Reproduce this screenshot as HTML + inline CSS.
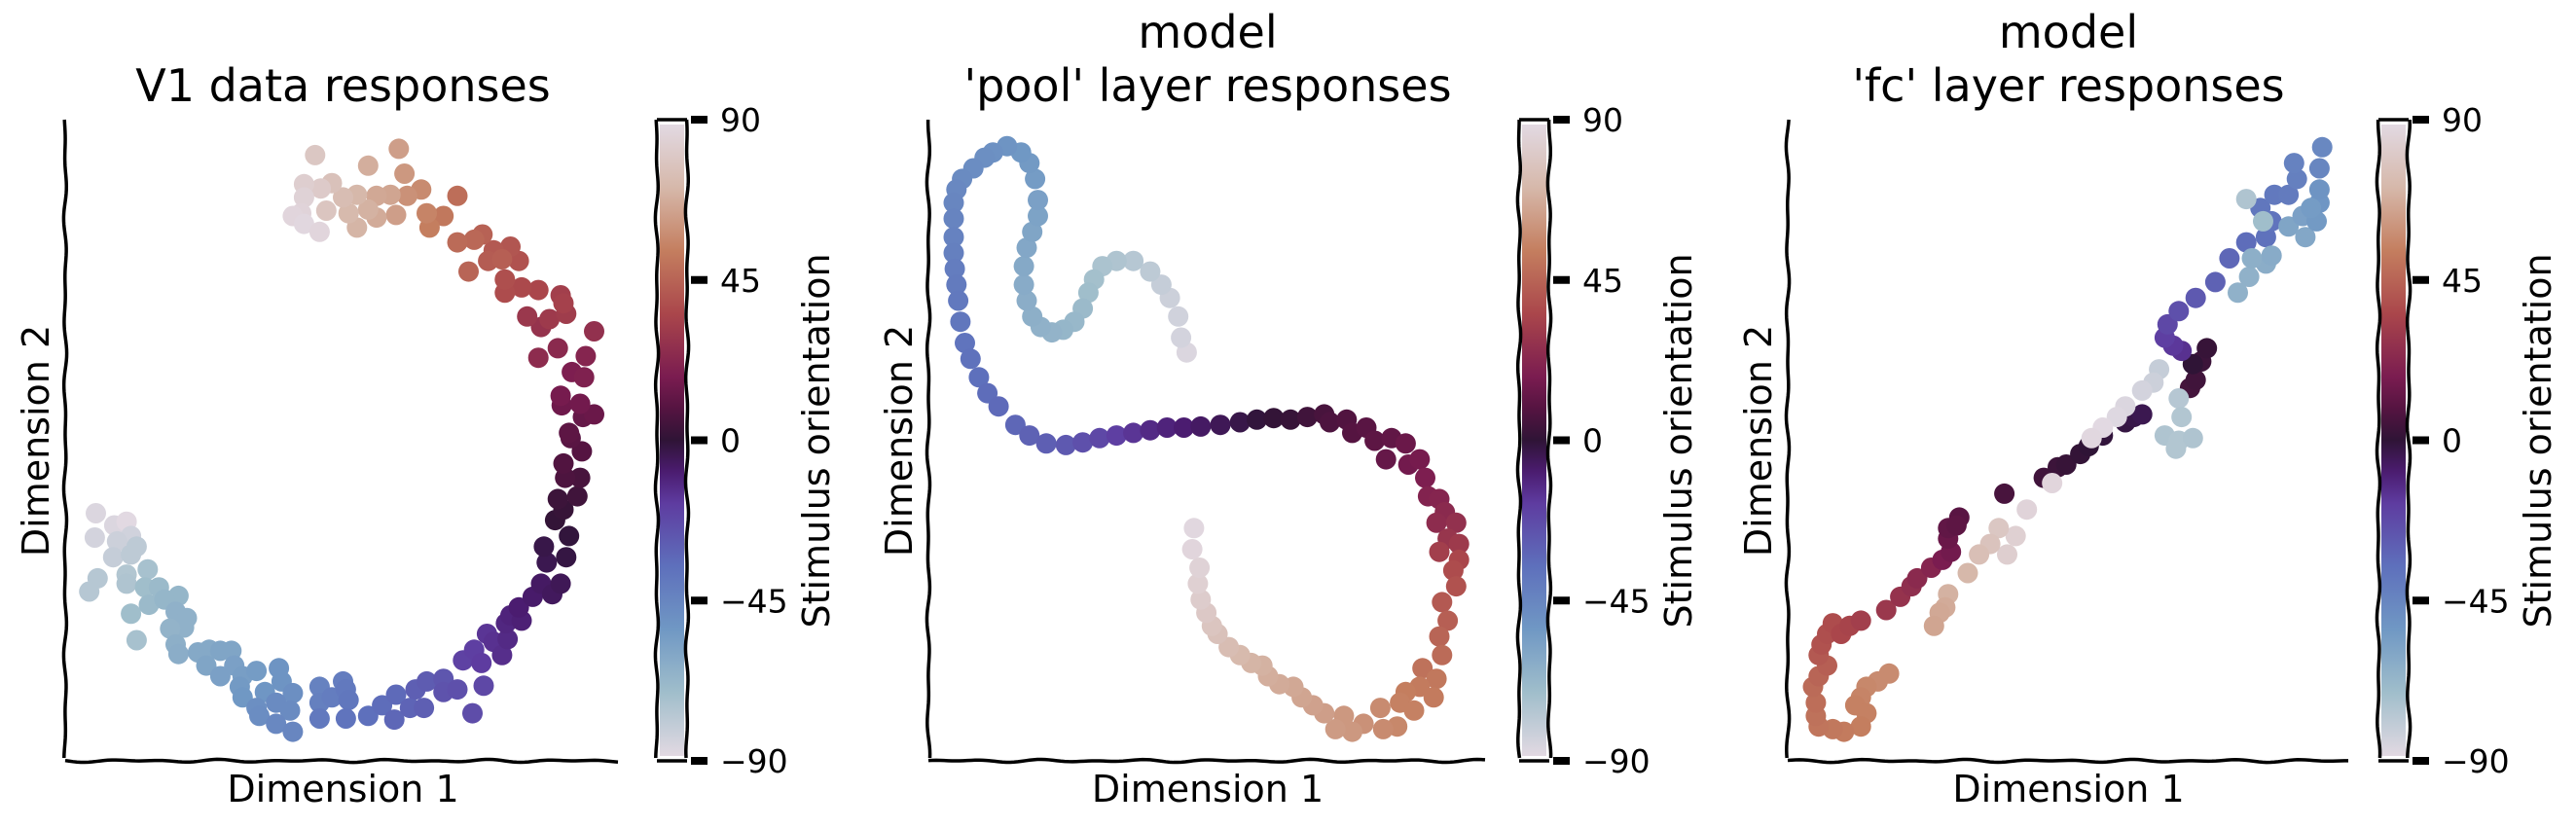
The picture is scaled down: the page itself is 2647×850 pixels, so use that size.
<!DOCTYPE html>
<html><head><meta charset="utf-8">
<style>
html,body{margin:0;padding:0;background:#fff;}
svg{display:block;font-family:"DejaVu Sans","Liberation Sans",sans-serif;}
</style></head>
<body>
<svg id="fig" width="2647" height="850" viewBox="0 0 2647 850" xmlns="http://www.w3.org/2000/svg">
<defs>
<linearGradient id="cmap" x1="0" y1="1" x2="0" y2="0">
<stop offset="0" stop-color="rgb(226,217,226)"/>
<stop offset="0.1" stop-color="rgb(160,190,203)"/>
<stop offset="0.2" stop-color="rgb(112,152,196)"/>
<stop offset="0.3" stop-color="rgb(94,112,188)"/>
<stop offset="0.4" stop-color="rgb(94,60,160)"/>
<stop offset="0.45" stop-color="rgb(75,28,112)"/>
<stop offset="0.5" stop-color="rgb(47,20,54)"/>
<stop offset="0.55" stop-color="rgb(85,20,65)"/>
<stop offset="0.6" stop-color="rgb(122,28,80)"/>
<stop offset="0.7" stop-color="rgb(170,70,75)"/>
<stop offset="0.8" stop-color="rgb(196,126,95)"/>
<stop offset="0.9" stop-color="rgb(214,184,170)"/>
<stop offset="1" stop-color="rgb(226,217,226)"/>
</linearGradient>
</defs>
</svg>
<script>
// ---- data: [dim1, dim2, orientation] ----
const v1Dim1 = [177,175,210,232,240,215,208,240,250,180,165,232,232,270,265,290,272,240,250,325,300,320,340,335,310,320,325,360,380,400,420,375,400,425,440,465,435,440,480,505,510,530,465,470,500,525,500,530,578,578,600,620,625,630,578,625,665,690,715,712,740,750,765,770,800,800,825,852,872,835,855,868,878,890,905,915,912,920,940,935,960,975,995,1010,985,980,1020,1025,1000,1015,1005,1040,1045,1018,1015,1048,1028,1025,1050,1070,1012,1045,1010,1030,1052,1055,1005,970,1070,975,950,990,1020,1010,1015,970,940,910,910,935,920,890,880,905,870,845,855,825,825,800,775,770,760,735,730,720,715,705,680,680,665,665,645,645,630,620,600,590,570,580,550,550,545,530,550,578];
const v1Dim2 = [972,1018,995,988,1015,1025,1055,1050,1035,1095,1120,1088,1105,1078,1112,1112,1145,1162,1212,1128,1135,1158,1170,1188,1190,1220,1238,1235,1230,1232,1232,1260,1280,1260,1280,1270,1300,1320,1310,1265,1290,1312,1340,1355,1330,1345,1370,1385,1300,1330,1320,1290,1305,1325,1360,1360,1355,1335,1315,1362,1340,1305,1340,1290,1285,1310,1305,1350,1298,1250,1230,1255,1200,1215,1240,1210,1180,1165,1175,1150,1130,1105,1125,1105,1065,1035,1055,1015,985,965,945,940,905,905,878,855,830,820,790,785,768,765,750,705,715,675,660,678,628,620,600,605,595,560,575,550,545,555,530,495,468,475,495,492,445,515,455,460,372,410,432,405,360,372,330,283,408,370,372,413,315,398,432,370,405,375,348,400,295,358,350,375,405,410,425,440];
const v1Orient = [-88,-86,-88,90,-85,-84,-82,-80,-80,-78,-78,-77,-76,-74,-72,-70,-70,-72,-74,-68,-68,-66,-66,-66,-67,-65,-64,-62,-62,-60,-60,-60,-58,-58,-57,-56,-55,-54,-53,-52,-52,-50,-50,-49,-48,-48,-47,-46,-44,-43,-42,-42,-40,-39,-40,-38,-36,-35,-34,-33,-32,-30,-30,-29,-27,-26,-25,-24,-22,-20,-19,-18,-16,-15,-14,-13,-12,-11,-10,-9,-8,-7,-6,-5,-4,-3,-2,-1,1,2,3,4,6,7,8,9,10,11,13,14,15,16,17,19,20,22,24,25,27,28,30,31,32,33,34,36,37,38,39,40,41,42,43,44,45,46,47,48,49,52,54,56,58,60,62,64,64,66,67,68,69,70,71,72,73,75,77,79,80,82,84,86,87,88,89,88];

const poolDim1 = [555,545,540,525,510,490,460,430,405,390,380,370,355,335,315,295,280,270,265,265,270,280,290,290,285,275,260,235,
 210,195,175,155,145,140,140,140,140,142,145,148,152,160,170,185,200,220,250,275,305,
 340,370,400,430,460,490,520,550,580,615,650,680,710,740,770,800,
 810,840,850,875,890,910,920,945,950,970,980,985,1005,1015,1000,1035,1020,1040,1005,1040,
 1030,1035,1010,1020,1005,1010,975,1000,970,945,995,935,960,930,905,900,870,850,835,820,800,780,760,745,720,700,690,670,650,630,610,600,590,580,575,578,565,568];
const poolDim2 = [668,640,600,565,540,515,495,495,505,530,555,585,610,625,630,620,600,570,540,505,470,440,410,380,340,310,290,278,
 290,300,320,340,360,385,415,450,480,510,540,570,610,650,680,715,745,770,805,825,840,
 843,838,830,825,820,815,810,810,808,805,800,795,792,795,790,785,
 800,795,820,810,835,870,830,840,880,870,905,940,945,970,990,990,1020,1030,1045,1060,
 1080,1110,1140,1175,1205,1240,1265,1285,1300,1310,1320,1330,1345,1375,1380,1340,1370,1385,1355,1380,1350,1335,1320,1300,1295,1280,1260,1255,1240,1225,1200,1185,1160,1135,1105,1075,1040,1000];
const poolOrient = [-88,-86,-85,-84,-82,-80,-78,-76,-75,-73,-72,-70,-69,-68,-67,-66,-65,-64,-63,-62,-61,-60,-59,-58,-56,-55,-54,-52,
 -51,-50,-49,-48,-47,-46,-45,-44,-43,-42,-41,-40,-39,-38,-37,-36,-35,-34,-33,-31,-30,
 -28,-25,-22,-19,-16,-13,-11,-9,-7,-5,-3,-1,1,2,4,6,
 7,8,9,10,11,13,12,14,16,17,19,21,22,24,25,27,29,31,33,36,
 38,40,42,44,46,48,50,52,53,54,53,55,55,57,58,58,60,62,62,63,64,65,66,67,68,69,70,71,73,75,77,79,81,83,85,86,88,89];

const fcDim1 = [340,320,300,290,280,300,290,260,240,215,210,210,205,215,230,215,220,230,240,255,270,290,335,360,380,390,415,435,450,445,445,465,460,545,615,640,655,680,695,720,760,775,790,875,885,895,905,880,
 860,845,830,835,855,885,920,945,975,1010,1020,1000,1025,1050,1065,1060,1105,1110,
 960,980,1010,1020,985,1050,1075,1080,1100,1105,1105,1090,975,1005,
 855,860,830,855,880,850,
 820,810,790,760,745,720,700,630,585,565,550,535,520,500,480,445,440,430,420];
const fcDim2 = [1275,1290,1300,1320,1335,1350,1375,1385,1380,1375,1355,1330,1300,1280,1260,1240,1220,1200,1180,1200,1185,1175,1155,1130,1110,1095,1075,1060,1045,1020,1000,980,995,935,905,885,880,860,845,825,800,790,785,735,720,685,660,690,
 665,655,640,615,590,565,535,490,460,450,420,395,370,370,340,310,320,280,
 555,525,500,485,490,430,410,450,420,385,360,395,378,420,
 755,790,825,835,830,850,
 700,725,740,770,790,810,830,915,965,1015,1050,1000,1030,1050,1085,1125,1150,1160,1185];
const fcOrient = [58,58,57,56,55,55,54,53,52,51,50,49,48,46,44,42,40,39,38,36,35,33,30,28,26,24,22,18,16,14,12,10,11,6,4,3,2,1,0,-1,-2,-3,-4,5,4,3,2,0,
 -15,-17,-19,-22,-25,-28,-31,-33,-35,-37,-38,-39,-40,-41,-43,-44,-46,-47,
 -66,-66,-64,-63,-65,-60,-58,-61,-55,-53,-52,-56,-76,-72,
 -78,-77,-76,-77,-76,-77,
 -82,-84,-86,-88,-89,90,89,88,87,85,84,80,78,76,72,70,68,67,66];

const cbTicks = [90, 45, 0, -45, -90];
const cbTickLabels = ['90', '45', '0', '\u221245', '\u221290'];
const panelTitles = [['V1 data responses'], ['model', "'pool' layer responses"], ['model', "'fc' layer responses"]];

// ---- layout ----
const NS = 'http://www.w3.org/2000/svg';
const svg = document.getElementById('fig');
const AX_T = 123, AX_B = 782;
const panels = [
  {left: 67, right: 638, cbL: 675, cbR: 706, dom: [122, 1118], d1: v1Dim1, d2: v1Dim2, o: v1Orient, key: 'v1'},
  {left: 954, right: 1528, cbL: 1561, cbR: 1592, dom: [95, 1090], d1: poolDim1, d2: poolDim2, o: poolOrient, key: 'pool'},
  {left: 1837, right: 2414, cbL: 2444, cbR: 2475, dom: [160, 1158], d1: fcDim1, d2: fcDim2, o: fcOrient, key: 'fc'}
];
const Y_DOM = [228, 1440];

const stops = [[0,[226,217,226]],[0.1,[160,190,203]],[0.2,[112,152,196]],[0.3,[94,112,188]],[0.4,[94,60,160]],[0.45,[75,28,112]],[0.5,[47,20,54]],[0.55,[85,20,65]],[0.6,[122,28,80]],[0.7,[170,70,75]],[0.8,[196,126,95]],[0.9,[214,184,170]],[1,[226,217,226]]];
function cmap(v){
  let t = (v + 90) / 180; t = Math.max(0, Math.min(1, t));
  for (let i = 1; i < stops.length; i++){
    if (t <= stops[i][0]){
      const a = stops[i-1], b = stops[i], f = (t - a[0]) / (b[0] - a[0]);
      const c = a[1].map((x, k) => Math.round(x + (b[1][k] - x) * f));
      return 'rgb(' + c.join(',') + ')';
    }
  }
  return 'rgb(226,217,226)';
}
function mk(tag, attrs){ const e = document.createElementNS(NS, tag); for (const k in attrs) e.setAttribute(k, attrs[k]); return e; }
function wavyH(x0, x1, y, ph){ let d = ''; for (let x = x0; x <= x1; x += 4){ d += (x === x0 ? 'M' : 'L') + x + ',' + (y + 1.6 * Math.sin((x + ph) / 11) * Math.sin((x + ph) / 47)).toFixed(2); } return d; }
function wavyV(y0, y1, x, ph){ let d = ''; for (let y = y0; y <= y1; y += 4){ d += (y === y0 ? 'M' : 'L') + (x + 1.6 * Math.sin((y + ph) / 11) * Math.sin((y + ph) / 47)).toFixed(2) + ',' + y; } return d; }

panels.forEach((p, pi) => {
  const g = mk('g', {});
  
  
  svg.appendChild(g);
  const xs = v => p.left + (v - p.dom[0]) / (p.dom[1] - p.dom[0]) * (p.right - p.left);
  const ys = v => AX_T + (v - Y_DOM[0]) / (Y_DOM[1] - Y_DOM[0]) * (AX_B - AX_T);
  const cx = (p.left + p.right) / 2;

  const lines = panelTitles[pi];
  lines.forEach((ln, li) => {
    const t = mk('text', {x: cx, y: 104 - (lines.length - 1 - li) * 55, 'font-size': 46, 'text-anchor': 'middle', fill: '#000'});
    
    
    t.textContent = ln; g.appendChild(t);
  });

  const pts = mk('g', {});
  
  
  g.appendChild(pts);
  for (let i = 0; i < p.d1.length; i++){
    const c = mk('circle', {cx: xs(p.d1[i]).toFixed(1), cy: ys(p.d2[i]).toFixed(1), r: 10.5, fill: cmap(p.o[i])});
    
    
    pts.appendChild(c);
  }

  const ax = mk('path', {d: wavyV(AX_T, AX_B, p.left, pi * 37) + wavyH(p.left, p.right, AX_B, pi * 53).replace('M', ' M'), stroke: '#000', 'stroke-width': 3.5, fill: 'none'});
  
  
  g.appendChild(ax);

  const xl = mk('text', {x: cx, y: 824, 'font-size': 38, 'text-anchor': 'middle'});
  
  
  xl.textContent = 'Dimension 1'; g.appendChild(xl);
  const yl = mk('text', {x: 0, y: 0, 'font-size': 38, 'text-anchor': 'middle', transform: 'translate(' + (p.left - 17) + ',453) rotate(-90)'});
  
  
  yl.textContent = 'Dimension 2'; g.appendChild(yl);

  const cb = mk('g', {});
  
  
  g.appendChild(cb);
  const rect = mk('rect', {x: p.cbL + 3, y: AX_T + 5, width: p.cbR - p.cbL - 6, height: AX_B - AX_T - 10, fill: 'url(#cmap)'});
  
  
  cb.appendChild(rect);
  const out = mk('path', {d: wavyV(AX_T, AX_B, p.cbL, pi * 19) + wavyV(AX_T, AX_B, p.cbR, pi * 29 + 7).replace('M', ' M') + ' M' + p.cbL + ',' + AX_T + ' L' + p.cbR + ',' + AX_T + ' M' + p.cbL + ',' + AX_B + ' L' + p.cbR + ',' + AX_B, stroke: '#000', 'stroke-width': 3.5, fill: 'none'});
  
  
  cb.appendChild(out);
  const cbs = v => AX_B - (v + 90) / 180 * (AX_B - AX_T);
  cbTicks.forEach((tv, ti) => {
    const ty = cbs(tv);
    const tk = mk('rect', {x: p.cbR + 4, y: ty - 4, width: 17, height: 8, fill: '#000'});
    
    
    cb.appendChild(tk);
    const tl = mk('text', {x: p.cbR + 34, y: ty + 12, 'font-size': 33});
    
    
    tl.textContent = cbTickLabels[ti]; cb.appendChild(tl);
  });
  const cl = mk('text', {x: 0, y: 0, 'font-size': 38, 'text-anchor': 'middle', transform: 'translate(' + (p.cbR + 146) + ',453) rotate(-90)'});
  
  
  cl.textContent = 'Stimulus orientation'; cb.appendChild(cl);
});
</script>
</body></html>
